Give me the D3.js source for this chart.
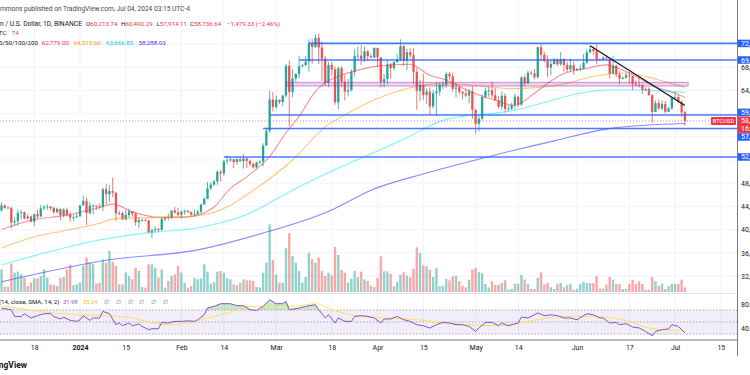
<!DOCTYPE html>
<html>
<head>
<meta charset="utf-8">
<script src="https://cdnjs.cloudflare.com/ajax/libs/d3/7.8.5/d3.min.js"></script>
<style>
  body { margin: 0; background: #fff; }
  svg { display: block; font-family: Roboto, "Noto Sans", sans-serif; }
</style>
</head>
<body>
<div id="chart"></div>
<script>
// chart size and the main geometry
const width = 750, height = 375;
const axisX = 737;          // right price axis line
const mainBottom = 293;     // bottom of price pane
const rsiTop = 294, rsiBottom = 339.5;

// daily candles, first one is 2023-12-07, values in thousands of USD [open, high, low, close]
const candleStart = "2023-12-07";
const ohlc = [
  [43.77,44.05,42.80,43.29],[43.29,44.70,43.08,44.17],[44.17,44.37,43.58,43.72],[43.72,44.04,43.58,43.79],
  [43.79,43.81,40.22,41.24],[41.24,42.05,40.68,41.45],[41.45,43.43,40.65,42.89],[42.89,43.40,41.80,43.02],
  [43.02,43.09,41.68,41.94],[41.94,42.70,41.70,42.26],[42.26,42.43,41.25,41.37],[41.37,42.75,40.53,42.66],
  [42.66,43.48,41.82,42.26],[42.26,44.28,42.20,43.66],[43.66,44.24,43.33,43.86],[43.86,44.40,43.40,43.99],
  [43.99,44.00,43.30,43.72],[43.72,43.95,42.76,43.01],[43.01,43.80,42.73,43.58],[43.58,43.60,41.64,42.51],
  [42.51,43.68,42.10,43.44],[43.44,43.80,42.30,42.58],[42.58,43.12,41.30,42.07],[42.07,42.60,41.52,42.14],
  [42.14,42.90,41.96,42.28],
  // Jan
  [42.28,44.18,42.20,44.18],[44.18,45.88,44.15,44.95],[44.95,45.50,40.75,42.85],[42.85,44.77,42.63,44.15],
  [44.15,44.34,42.63,44.16],[44.16,44.20,43.40,43.97],[43.97,44.50,43.59,43.93],[43.93,47.25,43.20,46.96],
  [46.96,47.90,44.30,46.11],[46.11,47.70,44.75,46.65],[46.65,48.97,45.60,46.34],[46.34,46.50,41.50,42.78],
  [42.78,43.26,42.44,42.84],[42.84,43.08,41.72,41.73],[41.73,43.40,41.70,42.51],[42.51,43.58,42.05,43.15],
  [43.15,43.20,42.20,42.74],[42.74,42.93,40.68,41.26],[41.26,42.15,40.28,41.62],[41.62,41.87,41.45,41.66],
  [41.66,41.87,41.50,41.55],[41.55,41.68,39.43,39.50],[39.50,40.13,38.55,39.89],[39.89,40.55,39.49,40.08],
  [40.08,40.29,39.50,39.93],[39.93,42.22,39.80,41.82],[41.82,42.20,41.39,42.12],[42.12,42.84,41.62,42.03],
  [42.03,43.30,41.80,43.30],[43.30,43.88,42.69,42.95],[42.95,43.75,42.30,42.58],
  // Feb
  [42.58,43.29,41.88,43.08],[43.08,43.49,42.58,43.20],[43.20,43.38,42.88,43.01],[43.01,43.12,42.25,42.58],
  [42.58,43.50,42.25,42.66],[42.66,43.40,42.57,43.09],[43.09,44.39,42.79,44.34],[44.34,45.60,44.33,45.29],
  [45.29,48.20,45.24,47.13],[47.13,48.17,46.80,47.75],[47.75,48.59,47.50,48.29],[48.29,50.33,47.71,49.96],
  [49.96,50.37,48.30,49.70],[49.70,52.00,49.25,51.80],[51.80,52.82,51.30,51.94],[51.94,52.58,51.62,52.13],
  [52.13,52.20,50.62,51.66],[51.66,52.38,51.18,52.12],[52.12,52.49,51.68,51.78],[51.78,52.98,50.52,52.27],
  [52.27,52.37,50.62,51.85],[51.85,52.05,50.93,51.32],[51.32,51.55,50.52,50.73],[50.73,51.69,50.58,51.57],
  [51.57,51.95,51.28,51.73],[51.73,54.91,50.90,54.48],[54.48,57.59,54.45,57.04],[57.04,64.00,56.69,62.43],
  [62.43,63.68,60.36,61.13],
  // Mar
  [61.13,63.11,60.79,62.39],[62.39,62.43,61.60,61.99],[61.99,63.23,61.32,63.11],[63.11,68.50,62.77,68.25],
  [68.25,69.17,57.80,63.72],[63.72,67.64,62.81,66.07],[66.07,67.00,65.50,66.81],[66.81,69.99,66.10,68.17],
  [68.17,68.60,67.90,68.35],[68.35,69.94,68.15,68.95],[68.95,72.80,67.20,72.12],[72.12,72.95,68.60,71.48],
  [71.48,73.65,71.34,73.07],[73.07,73.78,68.55,71.40],[71.40,72.40,65.60,69.50],[69.50,70.00,64.78,65.30],
  [65.30,68.90,64.55,68.39],[68.39,68.92,66.60,67.61],[67.61,68.10,61.50,61.94],[61.94,68.10,60.78,67.84],
  [67.84,68.24,64.53,65.50],[65.50,66.65,62.26,63.80],[63.80,65.98,63.00,64.06],[64.06,67.62,63.80,67.23],
  [67.23,71.15,66.38,69.96],[69.96,71.56,69.28,69.99],[69.99,71.77,68.38,69.45],[69.45,71.55,68.90,70.74],
  [70.74,70.91,69.08,69.89],[69.89,70.36,69.57,69.65],[69.65,71.37,69.62,71.33],
  // Apr
  [71.33,71.34,68.10,69.70],[69.70,69.70,64.50,65.46],[65.46,66.90,64.50,65.96],[65.96,69.29,65.06,68.50],
  [68.50,68.72,66.00,67.84],[67.84,69.00,67.45,68.90],[68.90,70.33,68.70,69.36],[69.36,72.80,69.04,71.62],
  [71.62,71.76,68.21,69.14],[69.14,71.17,67.52,70.59],[70.59,71.27,69.56,70.06],[70.06,71.23,65.10,67.20],
  [67.20,67.93,60.66,63.92],[63.92,65.84,62.13,64.96],[64.96,66.87,62.30,63.19],[63.19,64.35,61.62,63.80],
  [63.80,64.50,59.77,61.26],[61.26,64.10,60.80,63.51],[63.51,65.45,59.60,63.84],[63.84,65.39,63.12,64.94],
  [64.94,65.65,64.25,64.94],[64.94,67.22,64.50,66.83],[66.83,67.20,65.86,66.41],[66.41,67.07,63.80,64.28],
  [64.28,65.30,62.80,64.50],[64.50,64.79,63.30,63.77],[63.77,63.90,62.40,63.46],[63.46,64.30,62.83,63.12],
  [63.12,64.23,61.80,63.84],[63.84,64.70,59.10,60.64],
  // May
  [60.64,60.75,56.55,58.25],[58.25,59.60,56.90,59.12],[59.12,63.30,58.80,62.89],[62.89,64.50,62.58,63.89],
  [63.89,64.65,62.90,64.00],[64.00,65.50,62.70,63.17],[63.17,64.40,62.28,62.33],[62.33,62.99,60.88,61.19],
  [61.19,63.85,60.63,63.07],[63.07,63.47,60.19,60.79],[60.79,61.44,60.49,60.83],[60.83,61.85,60.63,61.46],
  [61.46,63.45,60.75,62.90],[62.90,63.11,61.14,61.55],[61.55,66.44,61.33,66.25],[66.25,66.74,64.60,65.23],
  [65.23,67.45,65.10,67.05],[67.05,67.40,66.60,66.94],[66.94,67.70,65.86,66.27],[66.27,71.50,66.06,71.45],
  [71.45,71.98,69.16,70.14],[70.14,70.63,68.83,69.12],[69.12,70.05,66.30,67.93],[67.93,69.25,66.60,68.53],
  [68.53,69.58,68.50,69.28],[69.28,69.50,68.23,68.51],[68.51,70.60,68.25,69.40],[69.40,69.56,67.25,68.37],
  [68.37,68.90,67.13,67.63],[67.63,69.50,67.12,68.36],[68.36,69.00,66.67,67.49],
  // Jun
  [67.49,67.86,67.40,67.71],[67.71,68.44,67.30,67.75],[67.75,70.28,67.61,68.80],[68.80,71.06,68.50,70.57],
  [70.57,71.76,70.38,71.08],[71.08,71.63,70.12,70.76],[70.76,71.98,68.50,69.34],[69.34,69.56,69.20,69.30],
  [69.30,69.85,69.13,69.65],[69.65,70.15,69.22,69.51],[69.51,69.56,66.05,66.85],[66.85,70.00,66.80,68.24],
  [68.24,68.44,66.30,66.75],[66.75,67.30,65.06,66.01],[66.01,66.40,65.87,66.19],[66.19,66.99,66.00,66.64],
  [66.64,67.20,65.10,66.49],[66.49,66.50,64.06,65.13],[65.13,65.73,64.69,64.96],[64.96,66.48,64.50,64.83],
  [64.83,65.07,63.38,64.10],[64.10,64.52,63.94,64.26],[64.26,64.52,63.15,63.17],[63.17,63.37,58.40,60.28],
  [60.28,62.30,60.25,61.80],[61.80,62.48,60.71,60.86],[60.86,62.29,60.58,61.68],[61.68,62.20,60.05,60.32],
  [60.32,61.20,60.30,60.89],[60.89,63.00,60.68,62.68],
  // Jul
  [62.68,63.86,62.50,62.85],[62.85,63.30,61.80,62.03],[62.03,62.27,59.44,60.21],[60.21374,60.49029,57.91411,58.73664]
];

// daily volume (thousand BTC), same order as ohlc
const volume = [
  45,
  68,16,16,85,58,61,53,43,18,28,41,41,48,68,43,23,21,18,43,45,68,81,20,23,
  28,78,103,88,83,25,28,98,88,123,91,78,23,23,58,48,38,73,63,15,13,83,83,73,43,68,13,33,48,53,78,
  58,28,13,18,43,38,41,83,61,25,30,61,63,58,41,38,23,20,28,38,35,35,33,15,13,58,88,203,96,
  53,28,28,131,176,108,88,63,28,45,118,98,88,103,63,48,58,50,135,111,66,58,28,40,63,45,61,38,33,18,15,
  42,107,62,62,54,17,30,52,59,49,44,70,134,117,80,77,67,45,72,18,19,39,35,47,49,32,19,14,37,67,
  72,60,57,24,14,32,22,22,27,35,7,9,25,25,51,37,24,9,9,42,59,22,27,14,9,24,27,14,20,25,7,
  10,24,31,27,27,27,48,10,10,22,45,37,24,24,9,9,24,37,24,32,24,7,7,45,32,19,25,9,17,24,
  24,24,37,14
];

// moving averages [date, value in thousands]
const ma20Points = [
  ["2023-12-08",40.0],["2023-12-17",41.6],["2023-12-28",42.5],["2024-01-07",43.8],["2024-01-11",44.4],
  ["2024-01-17",43.1],["2024-01-25",42.1],["2024-02-01",42.1],["2024-02-06",42.5],["2024-02-11",43.9],
  ["2024-02-16",47.1],["2024-02-21",49.1],["2024-02-28",52.6],["2024-03-04",56.7],["2024-03-08",59.5],
  ["2024-03-13",63.8],["2024-03-15",64.9],["2024-03-20",66.4],["2024-03-26",67.5],["2024-03-31",68.1],
  ["2024-04-11",68.5],["2024-04-17",66.6],["2024-04-22",65.8],["2024-04-27",64.4],["2024-05-02",63.2],
  ["2024-05-07",62.3],["2024-05-13",61.4],["2024-05-19",63.5],["2024-05-23",65.2],["2024-05-28",66.9],
  ["2024-06-04",67.8],["2024-06-10",68.4],["2024-06-15",67.5],["2024-06-19",66.4],["2024-06-25",64.6],
  ["2024-07-01",63.5],["2024-07-04",62.779]
];
const ma50Points = [
  ["2023-12-08",36.8],["2023-12-17",38.6],["2023-12-28",39.9],["2024-01-07",41.1],["2024-01-12",41.9],
  ["2024-01-25",42.1],["2024-02-06",42.4],["2024-02-16",44.2],["2024-02-21",46.0],["2024-03-06",52.0],
  ["2024-03-16",57.7],["2024-03-23",60.1],["2024-04-01",62.6],["2024-04-12",64.6],["2024-04-22",65.2],
  ["2024-04-30",64.9],["2024-05-12",64.3],["2024-05-27",65.0],["2024-06-06",66.4],["2024-06-16",67.0],
  ["2024-06-26",65.8],["2024-07-04",64.516]
];
const ma100Points = [
  ["2023-12-08",33.9],["2023-12-20",35.8],["2024-01-07",38.2],["2024-01-21",39.4],["2024-02-07",40.4],
  ["2024-02-21",42.6],["2024-03-06",46.8],["2024-03-20",50.6],["2024-04-08",55.3],["2024-04-22",59.0],
  ["2024-05-13",60.6],["2024-05-23",62.1],["2024-06-02",63.5],["2024-06-12",64.1],["2024-06-22",64.0],
  ["2024-07-04",63.667]
];
const ma200Points = [
  ["2023-12-08",31.0],["2024-01-10",34.8],["2024-02-06",36.5],["2024-02-26",39.4],["2024-03-18",43.4],
  ["2024-03-30",46.8],["2024-04-15",49.6],["2024-05-03",52.3],["2024-05-25",55.3],["2024-06-12",57.5],
  ["2024-07-04",58.288]
];

const rsiPoints = [
  ["2023-12-08",73.3],["2023-12-11",70.5],["2023-12-12",59.3],["2023-12-14",59],["2023-12-15",63.8],
  ["2023-12-17",56.7],["2023-12-19",60.5],["2023-12-21",63.8],["2023-12-23",64],["2023-12-24",59],
  ["2023-12-26",55],["2023-12-27",58],["2023-12-29",52.7],["2023-12-31",51],["2024-01-01",53.8],
  ["2024-01-02",60.5],["2024-01-04",52.7],["2024-01-05",56.7],["2024-01-07",56.7],["2024-01-08",67.7],
  ["2024-01-10",63.8],["2024-01-12",45.5],["2024-01-13",48.3],["2024-01-14",43.8],["2024-01-16",48.3],
  ["2024-01-17",43.8],["2024-01-19",46.7],["2024-01-20",42.7],["2024-01-22",37.2],["2024-01-23",38.8],
  ["2024-01-25",38.8],["2024-01-26",49.3],["2024-01-28",48.3],["2024-01-30",51],["2024-02-01",51],
  ["2024-02-03",52],["2024-02-05",51],["2024-02-06",53.8],["2024-02-08",62],["2024-02-09",73.3],
  ["2024-02-11",76],["2024-02-13",80.5],["2024-02-16",80.5],["2024-02-18",77.2],["2024-02-20",77.2],
  ["2024-02-22",70.5],["2024-02-24",69.4],["2024-02-26",76],["2024-02-28",87],["2024-03-01",80.5],
  ["2024-03-03",80.5],["2024-03-04",84.3],["2024-03-05",70.5],["2024-03-08",73.3],["2024-03-10",76],
  ["2024-03-13",78.8],["2024-03-14",70.5],["2024-03-16",56.7],["2024-03-17",62],["2024-03-19",48.3],
  ["2024-03-20",56.7],["2024-03-22",51],["2024-03-24",51],["2024-03-25",59.3],["2024-03-27",60.5],
  ["2024-03-29",59.3],["2024-03-31",56.7],["2024-04-02",48.3],["2024-04-03",55],["2024-04-05",55],
  ["2024-04-07",59.3],["2024-04-09",53.8],["2024-04-11",51],["2024-04-13",45.5],["2024-04-15",43.8],
  ["2024-04-17",40],["2024-04-19",45.5],["2024-04-21",49.3],["2024-04-23",48.3],["2024-04-25",45.5],
  ["2024-04-27",45.5],["2024-04-29",42.7],["2024-05-01",34.3],["2024-05-02",40],["2024-05-04",49.3],
  ["2024-05-06",49.3],["2024-05-08",43.8],["2024-05-09",48.3],["2024-05-11",43.8],["2024-05-14",48.3],
  ["2024-05-15",58.3],["2024-05-17",56.7],["2024-05-20",65],["2024-05-22",60.5],["2024-05-24",62],
  ["2024-05-26",60.5],["2024-05-28",56.7],["2024-05-30",56.7],["2024-06-01",53.8],["2024-06-03",60.5],
  ["2024-06-04",63.8],["2024-06-06",62],["2024-06-08",56.7],["2024-06-09",56.7],["2024-06-11",48.3],
  ["2024-06-13",49.3],["2024-06-14",45.5],["2024-06-16",47.2],["2024-06-18",41.7],["2024-06-20",40],
  ["2024-06-22",34.3],["2024-06-24",27.2],["2024-06-25",34.3],["2024-06-27",37.2],["2024-06-29",38.3],
  ["2024-06-30",45.5],["2024-07-02",42.7],["2024-07-04",31.98]
];
const rsiMaPoints = [
  ["2023-12-08",77],["2023-12-16",70.5],["2023-12-24",65],["2024-01-02",62],["2024-01-10",60.5],
  ["2024-01-17",56.7],["2024-01-22",50],["2024-01-28",45.5],["2024-02-03",48.3],["2024-02-09",56.7],
  ["2024-02-17",67.7],["2024-02-22",76],["2024-02-28",76],["2024-03-06",76],["2024-03-13",80.5],
  ["2024-03-18",70.5],["2024-03-27",59.3],["2024-04-03",56.7],["2024-04-10",55],["2024-04-18",51],
  ["2024-04-28",45.5],["2024-05-08",43.8],["2024-05-19",52.7],["2024-05-27",59.3],["2024-06-06",59.3],
  ["2024-06-16",52.7],["2024-06-23",40],["2024-07-04",35.24]
];

// drawings: horizontal levels, the resistance zone and the falling trendline
const levelPrices = [72.1, 69.24, 59.76, 57.42, 52.52];
const levelStarts = ["2024-03-11", "2024-03-08", "2024-02-28", "2024-02-26", "2024-02-14"];
const zonePrices = [64.75, 65.4];
const zoneDates = ["2024-03-04", "2024-07-05"];
const trendPoints = [["2024-06-05", 71.7], ["2024-07-04", 61.4]];

// axes
const priceTicks = [32, 36, 40, 44, 48, 52, 56, 60, 64, 68, 72];
const timeTicks = ["2023-12-18","2024-01-01","2024-01-15","2024-02-01","2024-02-14","2024-03-01","2024-03-18",
  "2024-04-01","2024-04-15","2024-05-01","2024-05-14","2024-06-01","2024-06-17","2024-07-01","2024-07-15"];
const timeLabels = ["18","2024","15","Feb","14","Mar","18","Apr","15","May","14","Jun","17","Jul","15"];
const rsiTicks = [80, 40];

// legend texts
const ohlcLabels = ["O", "H", "L", "C"];
const ohlcValues = ["60,213.74", "60,490.29", "57,914.11", "58,736.64"];
const changeText = "\u22121,479.33 (\u22122.46%)";
const maLegendValues = ["62,779.00", "64,515.66", "63,666.85", "58,288.03"];
const maLegendColors = ["#f23645", "#ff9800", "#00c8f0", "#3333ff"];

const parse = d3.utcParse("%Y-%m-%d");
const dates = ohlc.map((d, i) => d3.utcDay.offset(parse(candleStart), i));
const last = ohlc[ohlc.length - 1];

const x = d3.scaleUtc()
  .domain([parse("2024-01-01"), parse("2024-07-01")])
  .range([80, 675.1]);
const y = d3.scaleLinear().domain([32, 72]).range([276, 44]);
const yVol = d3.scaleLinear().domain([0, 203]).range([292, 224.3]);
const yRsi = d3.scaleLinear().domain([30, 70]).range([334, 310]);

const up = "#26a69a", down = "#ef5350";

const svg = d3.select("#chart").append("svg")
  .attr("width", width).attr("height", height);

const defs = svg.append("defs");
defs.append("clipPath").attr("id", "clipMain")
  .append("rect").attr("x", 0).attr("y", 0).attr("width", axisX).attr("height", mainBottom);
defs.append("clipPath").attr("id", "clipRsi")
  .append("rect").attr("x", 0).attr("y", rsiTop).attr("width", axisX).attr("height", rsiBottom - rsiTop);
defs.append("clipPath").attr("id", "clipOver")
  .append("rect").attr("x", 0).attr("y", rsiTop).attr("width", axisX).attr("height", yRsi(70) - rsiTop);
defs.append("clipPath").attr("id", "clipUnder")
  .append("rect").attr("x", 0).attr("y", yRsi(30)).attr("width", axisX).attr("height", rsiBottom - yRsi(30));

// grid
const grid = svg.append("g");
grid.selectAll(".vg").data(timeTicks).join("line")
  .attr("x1", d => x(parse(d))).attr("x2", d => x(parse(d)))
  .attr("y1", 0).attr("y2", rsiBottom)
  .attr("stroke", "#f0f3fa");
grid.selectAll(".hg").data(priceTicks).join("line")
  .attr("x1", 0).attr("x2", axisX)
  .attr("y1", d => y(d)).attr("y2", d => y(d))
  .attr("stroke", "#f0f3fa");

// main pane
const main = svg.append("g").attr("clip-path", "url(#clipMain)");

main.append("g").selectAll("rect").data(volume).join("rect")
  .attr("x", (d, i) => x(dates[i]) - 1.2)
  .attr("width", 2.4)
  .attr("y", d => yVol(d))
  .attr("height", d => yVol(0) - yVol(d))
  .attr("fill", (d, i) => ohlc[i][3] >= ohlc[i][0] ? "rgba(38,166,154,0.5)" : "rgba(239,83,80,0.5)");

const candle = main.append("g").selectAll("g").data(ohlc).join("g");
candle.append("line")
  .attr("x1", (d, i) => x(dates[i])).attr("x2", (d, i) => x(dates[i]))
  .attr("y1", d => y(d[1])).attr("y2", d => y(d[2]))
  .attr("stroke", d => d[3] >= d[0] ? up : down)
  .attr("stroke-width", 0.8);
candle.append("rect")
  .attr("x", (d, i) => x(dates[i]) - 1.15)
  .attr("width", 2.3)
  .attr("y", d => y(Math.max(d[0], d[3])))
  .attr("height", d => Math.max(0.8, Math.abs(y(d[0]) - y(d[3]))))
  .attr("fill", d => d[3] >= d[0] ? up : down);

const maLine = d3.line()
  .x(d => x(parse(d[0]))).y(d => y(d[1]))
  .curve(d3.curveMonotoneX);
const maSeries = [
  [ma20Points, "rgba(242,54,69,0.55)"],
  [ma50Points, "rgba(255,152,0,0.55)"],
  [ma100Points, "rgba(0,229,255,0.5)"],
  [ma200Points, "rgba(60,60,250,0.6)"]
];
maSeries.forEach(([pts, col]) => {
  main.append("path").datum(pts)
    .attr("d", maLine)
    .attr("fill", "none")
    .attr("stroke", col)
    .attr("stroke-width", 1.1);
});

// last price dotted line
main.append("line")
  .attr("x1", 0).attr("x2", axisX)
  .attr("y1", y(last[3])).attr("y2", y(last[3]))
  .attr("stroke", "#f23645").attr("stroke-opacity", 0.6)
  .attr("stroke-dasharray", "1,2");

// resistance zone
main.append("rect")
  .attr("x", x(parse(zoneDates[0])))
  .attr("width", x(parse(zoneDates[1])) - x(parse(zoneDates[0])))
  .attr("y", y(zonePrices[1]))
  .attr("height", y(zonePrices[0]) - y(zonePrices[1]))
  .attr("fill", "rgba(156,39,176,0.2)")
  .attr("stroke", "rgba(156,39,176,0.55)")
  .attr("stroke-width", 0.8);

// horizontal levels
main.selectAll(".level").data(levelPrices).join("line")
  .attr("x1", (d, i) => x(parse(levelStarts[i])))
  .attr("x2", axisX)
  .attr("y1", d => y(d)).attr("y2", d => y(d))
  .attr("stroke", "#2962ff").attr("stroke-opacity", 0.85)
  .attr("stroke-width", 1.6);

// trendline
main.append("line")
  .attr("x1", x(parse(trendPoints[0][0]))).attr("y1", y(trendPoints[0][1]))
  .attr("x2", x(parse(trendPoints[1][0]))).attr("y2", y(trendPoints[1][1]))
  .attr("stroke", "#131722").attr("stroke-width", 1.3);

// BTCUSD tag left of the axis
main.append("rect")
  .attr("x", axisX - 26).attr("y", y(last[3]) - 4).attr("width", 25).attr("height", 8)
  .attr("rx", 1).attr("fill", "#f23645");
main.append("text")
  .attr("x", axisX - 13.5).attr("y", y(last[3]) + 2.2)
  .attr("text-anchor", "middle").attr("font-size", 5.8).attr("fill", "#fff")
  .text("BTCUSD");

// RSI pane
const rsiG = svg.append("g").attr("clip-path", "url(#clipRsi)");
rsiG.append("rect")
  .attr("x", 0).attr("width", axisX)
  .attr("y", yRsi(70)).attr("height", yRsi(30) - yRsi(70))
  .attr("fill", "rgba(126,87,194,0.1)");
rsiG.selectAll(".band").data([70, 50, 30]).join("line")
  .attr("x1", 0).attr("x2", axisX)
  .attr("y1", d => yRsi(d)).attr("y2", d => yRsi(d))
  .attr("stroke", "#9598a1").attr("stroke-width", 0.8)
  .attr("stroke-dasharray", "1.5,1.8");

const overArea = d3.area().x(d => x(parse(d[0]))).y0(yRsi(70)).y1(d => yRsi(d[1]));
const underArea = d3.area().x(d => x(parse(d[0]))).y0(yRsi(30)).y1(d => yRsi(d[1]));
rsiG.append("path").datum(rsiPoints).attr("d", overArea)
  .attr("clip-path", "url(#clipOver)").attr("fill", "rgba(76,175,80,0.3)");
rsiG.append("path").datum(rsiPoints).attr("d", underArea)
  .attr("clip-path", "url(#clipUnder)").attr("fill", "rgba(242,54,69,0.3)");
rsiG.append("path").datum(rsiMaPoints)
  .attr("d", d3.line().x(d => x(parse(d[0]))).y(d => yRsi(d[1])).curve(d3.curveMonotoneX))
  .attr("fill", "none").attr("stroke", "#fbe35a").attr("stroke-width", 1);
rsiG.append("path").datum(rsiPoints)
  .attr("d", d3.line().x(d => x(parse(d[0]))).y(d => yRsi(d[1])))
  .attr("fill", "none").attr("stroke", "#7e57c2").attr("stroke-width", 1);

// pane separator and axis frame
svg.append("line").attr("x1", 0).attr("x2", axisX).attr("y1", mainBottom + 0.5).attr("y2", mainBottom + 0.5)
  .attr("stroke", "#e0e3eb");
svg.append("line").attr("x1", 0).attr("x2", axisX).attr("y1", rsiBottom + 0.5).attr("y2", rsiBottom + 0.5)
  .attr("stroke", "#787b86");
svg.append("line").attr("x1", axisX + 0.5).attr("x2", axisX + 0.5).attr("y1", 0).attr("y2", 356)
  .attr("stroke", "#787b86");

// time axis
const xAxis = d3.axisBottom(x)
  .tickValues(timeTicks.map(parse))
  .tickFormat((d, i) => timeLabels[i])
  .tickSize(0).tickPadding(6);
const gx = svg.append("g").attr("transform", `translate(0,${rsiBottom})`).call(xAxis);
gx.select(".domain").remove();
gx.selectAll("text").attr("font-size", 7).attr("fill", "#131722")
  .attr("font-family", "Roboto, sans-serif")
  .attr("font-weight", d => d.getUTCMonth() === 0 && d.getUTCDate() === 1 ? "bold" : null);

// axis tags for the levels and the last price
const boxH = 7.5;
const priceY = y(last[3]);
const priceBoxTop = priceY - 4.5, priceBoxBottom = priceY + 12;
const tagYs = levelPrices.map(p => {
  let ly = y(p);
  if (ly > priceBoxTop - boxH / 2 && ly < priceBoxBottom + boxH / 2) {
    ly = ly < priceY ? priceBoxTop - boxH / 2 - 0.3 : priceBoxBottom + boxH / 2 + 0.3;
  }
  return ly;
});

// price axis, tick labels hidden where a tag sits on them
const hidden = v => tagYs.some(t => Math.abs(t - y(v)) < 7) ||
  (y(v) > priceBoxTop - 4 && y(v) < priceBoxBottom + 4);
const yAxis = d3.axisRight(y)
  .tickValues(priceTicks.filter(v => !hidden(v)))
  .tickFormat(d => d3.format(",.2f")(d * 1000))
  .tickSize(0).tickPadding(4);
const gy = svg.append("g").attr("transform", `translate(${axisX},0)`).call(yAxis);
gy.select(".domain").remove();
gy.selectAll("text").attr("font-size", 7).attr("fill", "#131722").attr("font-family", "Roboto, sans-serif");

const gr = svg.append("g").attr("transform", `translate(${axisX},0)`)
  .call(d3.axisRight(yRsi).tickValues(rsiTicks).tickFormat(d3.format(".2f")).tickSize(0).tickPadding(4));
gr.select(".domain").remove();
gr.selectAll("text").attr("font-size", 7).attr("fill", "#131722").attr("font-family", "Roboto, sans-serif");

const tags = svg.append("g");
levelPrices.forEach((p, i) => {
  tags.append("rect").attr("x", axisX + 1).attr("y", tagYs[i] - boxH / 2)
    .attr("width", 20).attr("height", boxH).attr("fill", "#2962ff");
  tags.append("text").attr("x", axisX + 4).attr("y", tagYs[i] + 2.5)
    .attr("font-size", 7).attr("fill", "#fff").text(d3.format(",.2f")(p * 1000));
});
tags.append("rect").attr("x", axisX + 1).attr("y", priceBoxTop)
  .attr("width", 20).attr("height", priceBoxBottom - priceBoxTop).attr("fill", "#f23645");
tags.append("text").attr("x", axisX + 4).attr("y", priceY + 2.5)
  .attr("font-size", 7).attr("fill", "#fff").text(d3.format(",.2f")(last[3] * 1000));
tags.append("text").attr("x", axisX + 4).attr("y", priceY + 10)
  .attr("font-size", 7).attr("fill", "#fff").text("16:44:52");

// legends
const fs = 6.2;
const dark = "#131722";
const red = "#f23645";
svg.append("text").attr("x", 0).attr("y", 10.5).attr("font-size", 6.6).attr("fill", "#434651")
  .text("mmons published on TradingView.com, Jul 04, 2024 03:15 UTC-4");

svg.append("text").attr("x", 82).attr("y", 26).attr("font-size", 6.7).attr("fill", dark)
  .attr("text-anchor", "end").text("Bitcoin / U.S. Dollar, 1D, BINANCE");
const ohlcX = [86, 121, 156.5, 190];
ohlcLabels.forEach((l, i) => {
  const t = svg.append("text").attr("x", ohlcX[i]).attr("y", 26).attr("font-size", fs);
  t.append("tspan").attr("fill", dark).text(l);
  t.append("tspan").attr("fill", red).text(ohlcValues[i]);
});
svg.append("text").attr("x", 227).attr("y", 26).attr("font-size", fs).attr("fill", red).text(changeText);

svg.append("text").attr("x", 6.5).attr("y", 35).attr("font-size", fs).attr("fill", dark)
  .attr("text-anchor", "end").text("Vol \u00b7 BTC");
svg.append("text").attr("x", 11.7).attr("y", 35).attr("font-size", fs).attr("fill", red).text("74");

svg.append("text").attr("x", 38).attr("y", 44.5).attr("font-size", fs).attr("fill", dark)
  .attr("text-anchor", "end").text("MA 20/50/100/200");
const maLegendX = [41.7, 73.5, 106, 138.5];
maLegendValues.forEach((t, i) => {
  svg.append("text").attr("x", maLegendX[i]).attr("y", 44.5).attr("font-size", fs)
    .attr("fill", maLegendColors[i]).text(t);
});

svg.append("text").attr("x", 59.5).attr("y", 304).attr("font-size", fs).attr("fill", dark)
  .attr("text-anchor", "end").text("RSI (14, close, SMA, 14, 2)");
svg.append("text").attr("x", 63).attr("y", 304).attr("font-size", 5.8).attr("fill", "#7e57c2").text("31.98");
svg.append("text").attr("x", 83).attr("y", 304).attr("font-size", 5.8).attr("fill", "#e8c51c").text("35.24");
d3.range(6).forEach(i => {
  svg.append("text").attr("x", 104 + i * 11.8).attr("y", 304).attr("font-size", fs)
    .attr("fill", "#787b86").text("\u2205");
});

svg.append("text").attr("x", 27).attr("y", 368).attr("font-size", 8.5).attr("font-weight", "bold")
  .attr("fill", dark).attr("text-anchor", "end").text("TradingView");
</script>
</body>
</html>
